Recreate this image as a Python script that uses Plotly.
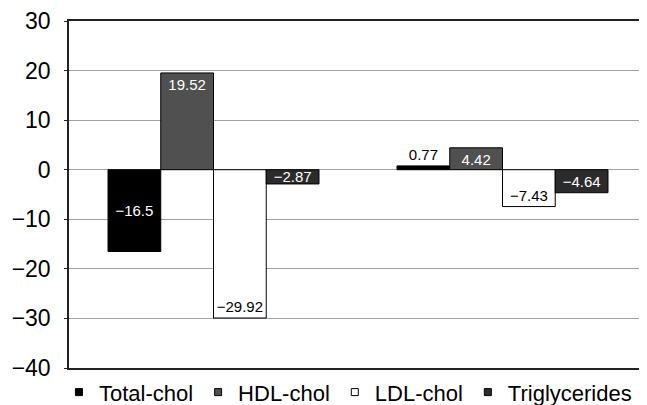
import plotly.graph_objects as go

groups = ["A", "B"]
series = ["Total-chol", "HDL-chol", "LDL-chol", "Triglycerides"]
values = {
    "Total-chol": [-16.5, 0.77],
    "HDL-chol": [19.52, 4.42],
    "LDL-chol": [-29.92, -7.43],
    "Triglycerides": [-2.87, -4.64],
}
fills = {"Total-chol": "#000000", "HDL-chol": "#505050", "LDL-chol": "#ffffff", "Triglycerides": "#2b2b2b"}
text_colors = {"Total-chol": "white", "HDL-chol": "white", "LDL-chol": "black", "Triglycerides": "white"}
anchors = {"Total-chol": "middle", "HDL-chol": "end", "LDL-chol": "end", "Triglycerides": "middle"}
y_ticks = [30, 20, 10, 0, -10, -20, -30, -40]

FONT = "Liberation Sans, Arial, sans-serif"

def fmt(v):
    return f"{v:g}".replace("-", "\u2212")

fig = go.Figure()
for s in series:
    vals = values[s]
    pos = ["outside" if 0 < v < 2 else "inside" for v in vals]
    fig.add_trace(go.Bar(
        x=groups, y=vals, name=s, showlegend=False,
        marker=dict(color=fills[s], line=dict(color="#000000", width=1)),
        text=[fmt(v) for v in vals], textposition=pos,
        insidetextanchor=anchors[s],
        insidetextfont=dict(color=text_colors[s], size=15, family=FONT),
        outsidetextfont=dict(color="black", size=15, family=FONT),
        cliponaxis=False, hoverinfo="skip",
    ))
    fig.add_trace(go.Scatter(
        x=[None], y=[None], mode="markers", name=s,
        marker=dict(symbol="square", size=7, color=fills[s], line=dict(color="#000000", width=1)),
    ))

fig.update_layout(
    width=639, height=397,
    margin=dict(l=61, r=0, t=13, b=37, autoexpand=False),
    paper_bgcolor="white", plot_bgcolor="white",
    barmode="group", bargap=0.27, bargroupgap=0,
    font=dict(family=FONT, color="black"),
    uniformtext=dict(minsize=15, mode="show"),
    showlegend=True,
    legend=dict(orientation="h", xref="container", x=0.532, xanchor="center",
                yref="container", y=0.032, yanchor="middle",
                font=dict(size=22, family=FONT), itemwidth=30, tracegroupgap=0,
                bgcolor="rgba(0,0,0,0)"),
)
fig.update_xaxes(showticklabels=False, range=[-0.5, 1.5], showline=True, mirror=True,
                 linecolor="#222222", linewidth=1.5, ticks="", showgrid=False)
fig.update_yaxes(range=[-40, 30], tickvals=y_ticks, showgrid=True, gridcolor="#a0a0a0",
                 gridwidth=1, zeroline=True, zerolinecolor="#a0a0a0", zerolinewidth=1,
                 showline=True, linecolor="#222222", linewidth=1.5, ticks="outside",
                 ticklen=3, tickcolor="#222222", tickfont=dict(size=23, family=FONT),
                 ticklabelstandoff=9, ticklabeloverflow="allow")

fig.write_html("out.html")
